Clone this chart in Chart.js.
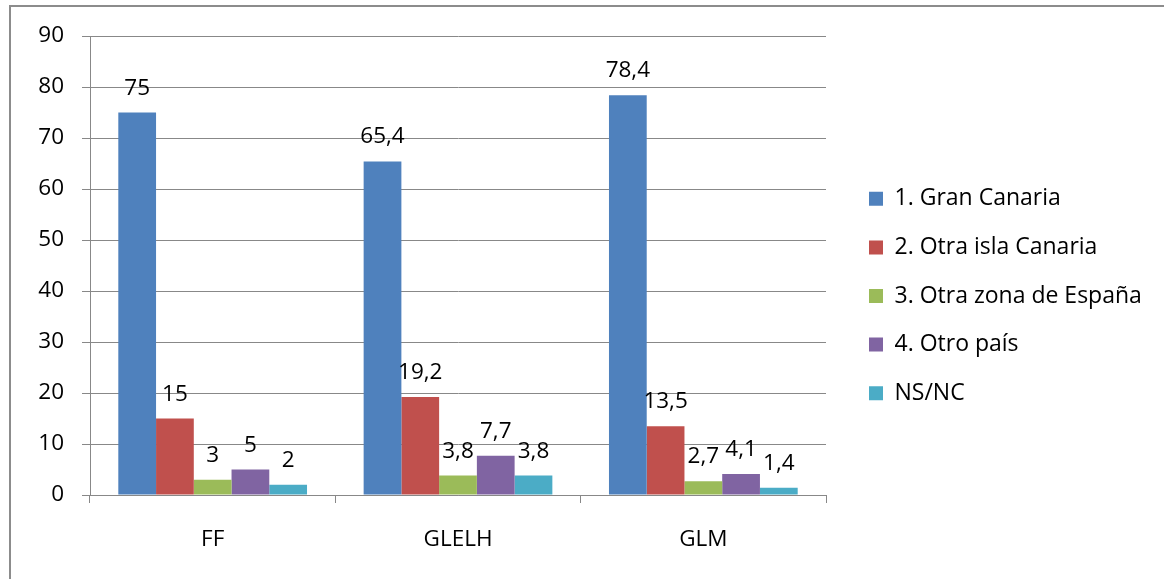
<!DOCTYPE html>
<html>
<head>
<meta charset="utf-8">
<script src="https://cdn.jsdelivr.net/npm/chart.js@4/dist/chart.umd.min.js"></script>
<style>
  html, body { margin: 0; padding: 0; background: #fff; }
  #wrap { width: 1164px; height: 579px; }
</style>
</head>
<body>
<div id="wrap"><canvas id="myChart" width="1164" height="579"></canvas></div>
<script>
// datos
var categorias = ['FF', 'GLELH', 'GLM'];
var series = ['1. Gran Canaria', '2. Otra isla Canaria', '3. Otra zona de España', '4. Otro país', 'NS/NC'];
var granCanaria = [75, 65.4, 78.4];
var otraIsla = [15, 19.2, 13.5];
var otraZona = [3, 3.8, 2.7];
var otroPais = [5, 7.7, 4.1];
var nsnc = [2, 3.8, 1.4];
var colores = ['#4F81BD', '#C0504D', '#9BBB59', '#8064A2', '#4BACC6'];
var yTicks = [0, 10, 20, 30, 40, 50, 60, 70, 80, 90];

var valores = [granCanaria, otraIsla, otraZona, otroPais, nsnc];
var fuente = "'Open Sans', 'DejaVu Sans', sans-serif";
var gris = '#888888';

// etiquetas encima de cada barra
var etiquetas = {
    id: 'etiquetas',
    afterDatasetsDraw: function (chart) {
        var ctx = chart.ctx;
        ctx.save();
        ctx.font = '22.5px ' + fuente;
        ctx.fillStyle = '#000';
        ctx.textAlign = 'center';
        ctx.textBaseline = 'alphabetic';
        chart.data.datasets.forEach(function (ds, i) {
            chart.getDatasetMeta(i).data.forEach(function (bar, j) {
                var txt = String(ds.data[j]).replace('.', ',');
                ctx.fillText(txt, bar.x, bar.y - 18);
            });
        });
        ctx.restore();
    }
};

// marco del grafico
var marco = {
    id: 'marco',
    beforeDraw: function (chart) {
        var ctx = chart.ctx;
        ctx.save();
        ctx.fillStyle = '#fff';
        ctx.fillRect(0, 0, chart.width, chart.height);
        ctx.fillStyle = '#8c8c8c';
        ctx.fillRect(9, 5, chart.width - 9, 2);
        ctx.fillRect(9, 5, 2, chart.height - 5);
        ctx.restore();
    },
    beforeLayout: function (chart) {
        if (chart.legend && !chart.legend._anchoFijo) {
            var fit = chart.legend.fit;
            chart.legend.fit = function () {
                fit.call(this);
                this.width = 320.6;
            };
            chart.legend._anchoFijo = true;
        }
    }
};

var ctx = document.getElementById('myChart').getContext('2d');
var chart = new Chart(ctx, {
    type: 'bar',
    data: {
        labels: categorias,
        datasets: series.map(function (nombre, i) {
            return {
                label: nombre,
                data: valores[i],
                backgroundColor: colores[i],
                borderWidth: 0,
                categoryPercentage: 5 / 6.5,
                barPercentage: 1
            };
        })
    },
    options: {
        responsive: false,
        animation: false,
        layout: { padding: { left: 10, top: 13, right: 0, bottom: 0 } },
        plugins: {
            title: { display: false },
            tooltip: { enabled: false },
            legend: {
                position: 'right',
                align: 'center',
                labels: {
                    boxWidth: 14,
                    boxHeight: 14,
                    padding: 25.6,
                    color: '#000',
                    font: { family: fuente, size: 23 }
                }
            }
        },
        scales: {
            x: {
                offset: true,
                grid: {
                    display: true,
                    drawOnChartArea: false,
                    drawTicks: true,
                    tickLength: 8,
                    color: gris,
                    offset: true
                },
                border: { display: true, color: gris },
                ticks: {
                    color: '#000',
                    padding: 23,
                    maxRotation: 0,
                    font: { family: fuente, size: 22.5 }
                },
                afterFit: function (scale) { scale.height = 84; }
            },
            y: {
                min: 0,
                max: 90,
                afterBuildTicks: function (scale) {
                    scale.ticks = yTicks.map(function (v) { return { value: v }; });
                },
                grid: {
                    color: gris,
                    tickLength: 8,
                    drawTicks: true
                },
                border: { display: true, color: gris },
                ticks: {
                    color: '#000',
                    padding: 18,
                    font: { family: fuente, size: 22.5 }
                },
                afterFit: function (scale) {
                    scale.width = 80;
                    scale.paddingTop = 36;
                }
            },
            hueco: {
                position: 'right',
                display: true,
                grid: { display: false },
                border: { display: false },
                ticks: { display: false },
                afterFit: function (scale) {
                    scale.width = 17.4;
                    scale.paddingTop = 0;
                    scale.paddingBottom = 0;
                }
            }
        }
    },
    plugins: [marco, etiquetas]
});
</script>
</body>
</html>
